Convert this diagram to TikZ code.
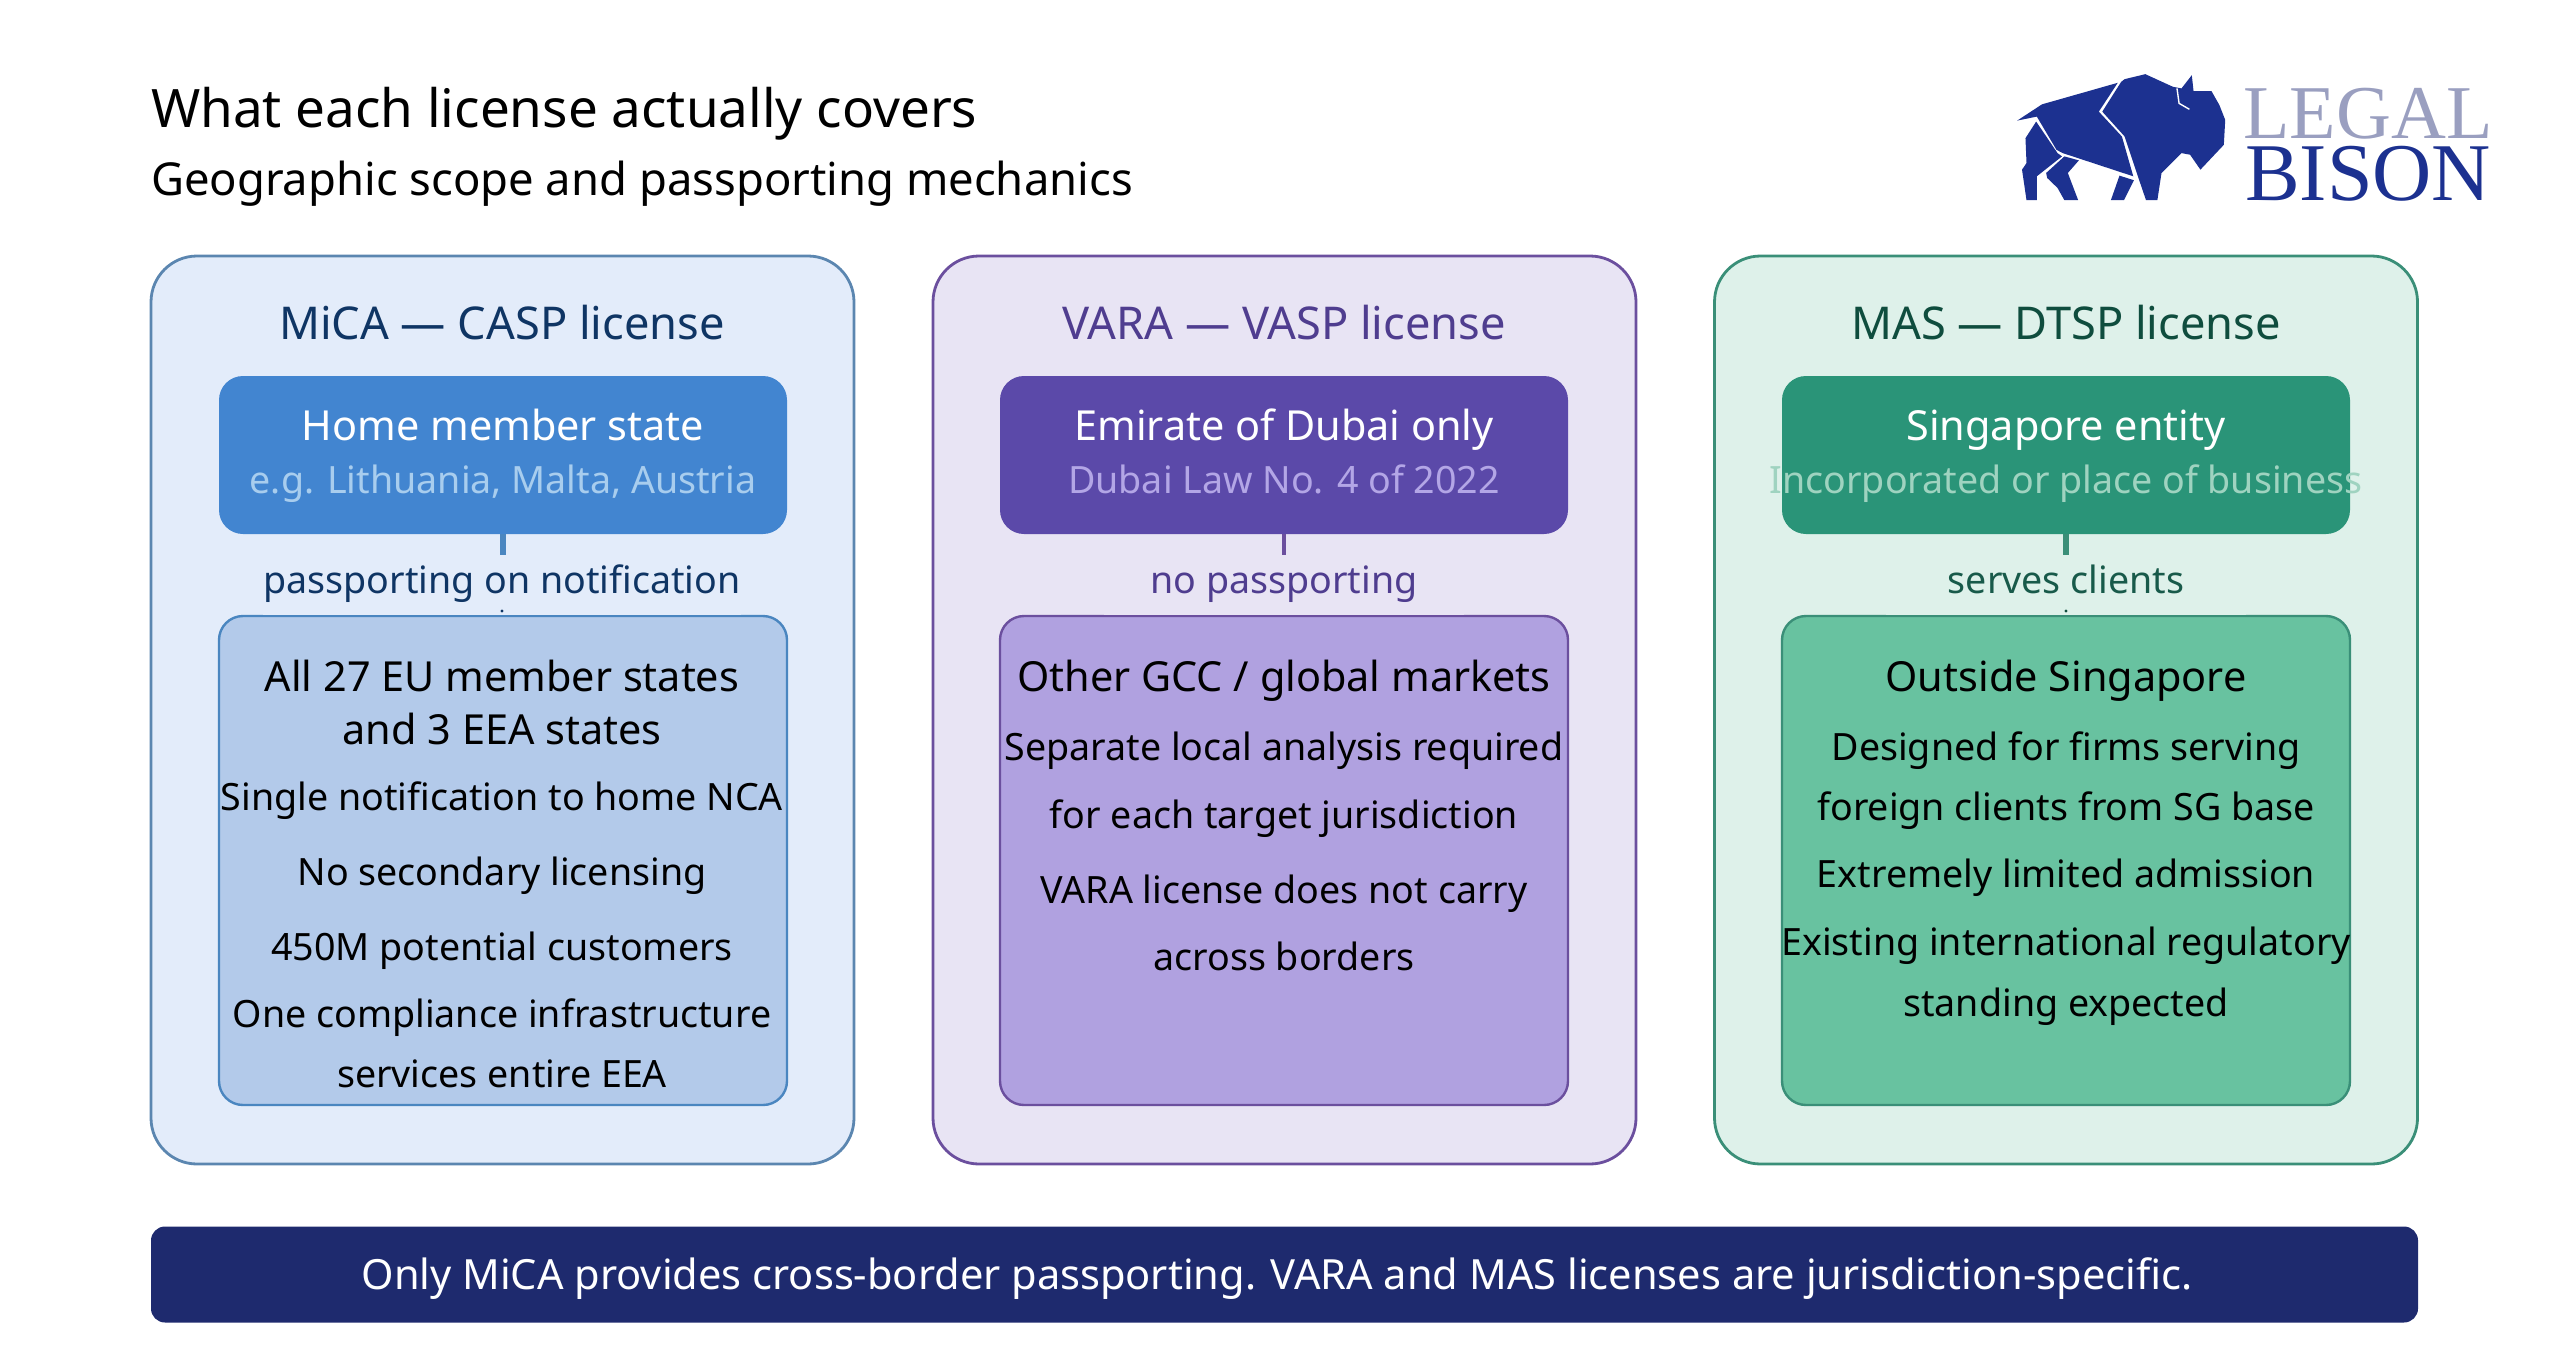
\documentclass[tikz,border=0pt]{standalone}
\usepackage{fontspec}
\setmainfont{Noto Sans}
\newfontfamily\logofont{Liberation Serif}
\definecolor{micapanel}{HTML}{E3ECFA}
\definecolor{micaline}{HTML}{5B86B0}
\definecolor{micahome}{HTML}{4285D0}
\definecolor{micascope}{HTML}{B3CAEA}
\definecolor{micaedge}{HTML}{4A86C0}
\definecolor{micatext}{HTML}{0F3564}
\definecolor{micasub}{HTML}{A8CDEE}
\definecolor{varapanel}{HTML}{E8E4F4}
\definecolor{varaline}{HTML}{6B4F9E}
\definecolor{varahome}{HTML}{5B49A9}
\definecolor{varascope}{HTML}{B0A1E0}
\definecolor{varatext}{HTML}{4F3D8F}
\definecolor{varasub}{HTML}{B3A6E6}
\definecolor{maspanel}{HTML}{DEF1EA}
\definecolor{masline}{HTML}{3A8F78}
\definecolor{mashome}{HTML}{2A9478}
\definecolor{masscope}{HTML}{68C2A0}
\definecolor{mastext}{HTML}{0F4D3E}
\definecolor{massub}{HTML}{9FD3C0}
\definecolor{barfill}{HTML}{1E2A6E}
\definecolor{bisonblue}{HTML}{1C3190}
\definecolor{legalgrey}{HTML}{9A9FC0}
\tikzset{
  txt/.style={inner sep=0pt, outer sep=0pt, text height=0.72em, text depth=0.2em, yshift=-4pt},
  panelbox/.style={draw, rounded corners=23pt, line width=1.4pt, minimum width=351.5pt, minimum height=454pt, inner sep=0pt},
  homebox/.style={rounded corners=12pt, minimum width=284pt, minimum height=79pt, inner sep=0pt},
  scopebox/.style={draw, rounded corners=12pt, line width=1.2pt, minimum width=284pt, minimum height=244.5pt, inner sep=0pt},
  paneltitle/.style={txt, font=\fontsize{22.6}{26}\selectfont},
  homeline/.style={txt, white, font=\fontsize{20.7}{24}\selectfont},
  homesub/.style={txt, font=\fontsize{18.8}{22}\selectfont},
  passlabel/.style={inner sep=0pt, outer sep=0pt, text height=1em, text depth=0.2em, minimum height=30pt, font=\fontsize{18.8}{22}\selectfont},
  scopehead/.style={txt, black, font=\fontsize{20.7}{24}\selectfont},
  scopeline/.style={txt, black, font=\fontsize{18.8}{22}\selectfont},
  stem/.style={line width=3.2pt},
  speck/.style={circle, inner sep=0pt, minimum size=1.6pt}
}
\begin{document}
\begin{tikzpicture}[x=0.5pt, y=-0.5pt]
  \useasboundingbox (0,0) rectangle (2560,1360);

  \node[txt, anchor=west, font=\fontsize{26.5}{30}\selectfont] at (151,114)(maintitle){What each license actually covers};
  \node[txt, anchor=west, font=\fontsize{22.7}{26}\selectfont] at (151,182)(subtitle){Geographic scope and passporting mechanics};

  % logo
  \begin{scope}[shift={(1980,42)}, x=0.1722pt, y=-0.1658pt, fill=bisonblue]
    \fill (108,237)--(180,188)--(400,123)--(345,210)--(412,285)--(445,405)--(240,335)--(222,325)--(165,225)--cycle;
    \fill (410,120)--(355,210)--(420,285)--(460,410)--(482,477)--(515,477)--(527,395)--(585,335)--(610,340)--(640,385)--(708,310)--(712,235)--(695,190)--(672,148)--(620,148)--(615,100)--(585,140)--(560,135)--(480,97)--(420,112)--cycle;
    \fill (163,240)--(225,335)--(238,345)--(165,405)--(165,477)--(135,477)--(122,385)--(135,365)--(132,290)--cycle;
    \fill (245,345)--(287,357)--(255,395)--(285,477)--(245,477)--(225,440)--(195,410)--(192,395)--cycle;
    \fill (405,403)--(447,417)--(418,477)--(380,477)--cycle;
    \draw[white, line width=0.7pt] (572,140)--(578,185)--(608,203);
  \end{scope}
  \node[inner sep=0pt, anchor=base, legalgrey, font=\logofont\fontsize{38}{40}\selectfont] at (2368,138)(legal){LEGAL};
  \node[inner sep=0pt, anchor=base, bisonblue, font=\logofont\fontsize{41}{44}\selectfont] at (2368,200)(bison){BISON};

  % MiCA
  \node[panelbox, draw=micaline, fill=micapanel] at (502.5,710)(micapanel){};
  \node[paneltitle, micatext] at (502,326)(micatitle){MiCA — CASP license};
  \node[homebox, fill=micahome] at (503,455)(micahome){};
  \node[scopebox, draw=micaedge, fill=micascope] at (503,860.5)(micascope){};
  \draw[stem, micaedge] (micahome)--(micascope);
  \node[homeline] at (503,427)(micahome1){Home member state};
  \node[homesub, micasub] at (503,480)(micahome2){e.g. Lithuania, Malta, Austria};
  \node[passlabel, micatext, fill=micapanel] at (502,585)(micapass){passporting on notification};
  \node[speck, fill=micatext] at (502,611)(micaspeck){};
  \node[scopehead] at (502,678)(micaa){All 27 EU member states};
  \node[scopehead] at (502,731)(micab){and 3 EEA states};
  \node[scopeline] at (502,797)(micac){Single notification to home NCA};
  \node[scopeline] at (502,872)(micad){No secondary licensing};
  \node[scopeline] at (502,947)(micae){450M potential customers};
  \node[scopeline] at (502,1014)(micaf){One compliance infrastructure};
  \node[scopeline] at (502,1074)(micag){services entire EEA};

  % VARA
  \node[panelbox, draw=varaline, fill=varapanel] at (1284.5,710)(varapanel){};
  \node[paneltitle, varatext] at (1284,326)(varatitle){VARA — VASP license};
  \node[homebox, fill=varahome] at (1284,455)(varahome){};
  \node[scopebox, draw=varaline, fill=varascope] at (1284,860.5)(varascope){};
  \draw[line width=2.2pt, varaline] (varahome)--(varascope);
  \node[homeline] at (1284,427)(varahome1){Emirate of Dubai only};
  \node[homesub, varasub] at (1284,480)(varahome2){Dubai Law No. 4 of 2022};
  \node[passlabel, varatext, fill=varapanel, minimum width=180pt] at (1284,585)(varapass){no passporting};
  \node[scopehead] at (1284,678)(varaa){Other GCC / global markets};
  \node[scopeline] at (1284,747)(varab){Separate local analysis required};
  \node[scopeline] at (1284,815)(varac){for each target jurisdiction};
  \node[scopeline] at (1284,890)(varad){VARA license does not carry};
  \node[scopeline] at (1284,957)(varae){across borders};

  % MAS
  \node[panelbox, draw=masline, fill=maspanel] at (2066,710)(maspanel){};
  \node[paneltitle, mastext] at (2066,326)(mastitle){MAS — DTSP license};
  \node[homebox, fill=mashome] at (2066,455)(mashome){};
  \node[scopebox, draw=masline, fill=masscope] at (2066,860.5)(masscope){};
  \draw[stem, masline] (mashome)--(masscope);
  \node[homeline] at (2066,427)(mashome1){Singapore entity};
  \node[homesub, massub] at (2066,480)(mashome2){Incorporated or place of business};
  \node[passlabel, mastext!80!masline, fill=maspanel, minimum width=180pt] at (2066,585)(maspass){serves clients};
  \node[speck, fill=mastext] at (2066,611)(masspeck){};
  \node[scopehead] at (2066,678)(masa){Outside Singapore};
  \node[scopeline] at (2066,747)(masb){Designed for firms serving};
  \node[scopeline] at (2066,807)(masc){foreign clients from SG base};
  \node[scopeline] at (2066,874)(masd){Extremely limited admission};
  \node[scopeline] at (2066,942)(mase){Existing international regulatory};
  \node[scopeline] at (2066,1003)(masf){standing expected};

  \node[fill=barfill, rounded corners=7pt, minimum width=1133.5pt, minimum height=48pt, inner sep=0pt] at (1284.5,1274.5)(footbar){};
  \node[txt, white, font=\fontsize{20.8}{24}\selectfont] at (1277,1276)(footline){Only MiCA provides cross-border passporting. VARA and MAS licenses are jurisdiction-specific.};
\end{tikzpicture}
\end{document}
